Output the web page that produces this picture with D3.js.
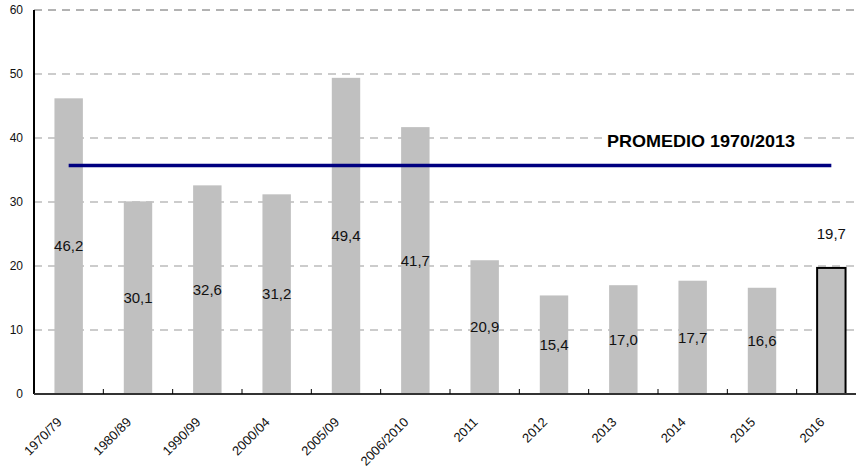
<!DOCTYPE html>
<html>
<head>
<meta charset="utf-8">
<script src="https://cdn.jsdelivr.net/npm/d3@7"></script>
<style>
  body { margin: 0; background: #fff; }
  text { font-family: Arial, "Liberation Sans", sans-serif; }
</style>
</head>
<body>
<svg id="chart" width="856" height="475"></svg>
<script>
// data
var periods = ["1970/79", "1980/89", "1990/99", "2000/04", "2005/09", "2006/2010",
               "2011", "2012", "2013", "2014", "2015", "2016"];
var values = [46.2, 30.1, 32.6, 31.2, 49.4, 41.7, 20.9, 15.4, 17.0, 17.7, 16.6, 19.7];
var highlight = ["2016"];
var averageValue = 35.7;
var averageLabel = "PROMEDIO 1970/2013";
var yTicks = [0, 10, 20, 30, 40, 50, 60];

var svg = d3.select("#chart");
var margin = { left: 34, top: 10, right: -10, bottom: 81 };
var width = 856 - margin.left - margin.right;
var height = 475 - margin.top - margin.bottom;

var g = svg.append("g")
    .attr("transform", "translate(" + margin.left + "," + margin.top + ")");

var x = d3.scaleBand().domain(periods).range([0, width]).paddingInner(0).paddingOuter(0);
var y = d3.scaleLinear().domain([0, 60]).range([height, 0]);
var barw = x.bandwidth() * 0.41;

// gridlines
g.selectAll(".grid")
    .data(yTicks.filter(function (d) { return d > 0; }))
    .enter()
    .append("line")
    .attr("x1", 0)
    .attr("x2", width)
    .attr("y1", function (d) { return y(d); })
    .attr("y2", function (d) { return y(d); })
    .attr("stroke", function (d) { return d === 60 ? "#666" : "#999"; })
    .attr("stroke-width", 1)
    .attr("stroke-dasharray", "8,6");

// bars
var data = periods.map(function (p, i) { return { p: p, v: values[i] }; });
g.selectAll(".bar")
    .data(data)
    .enter()
    .append("rect")
    .attr("x", function (d) { return x(d.p) + (x.bandwidth() - barw) / 2; })
    .attr("y", function (d) { return y(d.v); })
    .attr("width", barw)
    .attr("height", function (d) { return height - y(d.v); })
    .attr("fill", "#c0c0c0")
    .attr("stroke", function (d) { return highlight.indexOf(d.p) >= 0 ? "#000" : "none"; })
    .attr("stroke-width", 2);

// value labels (middle of bar, highlighted one above)
g.selectAll(".vlabel")
    .data(data)
    .enter()
    .append("text")
    .attr("x", function (d) { return x(d.p) + x.bandwidth() / 2; })
    .attr("y", function (d) {
        if (highlight.indexOf(d.p) >= 0) { return y(d.v) - 34; }
        return y(d.v / 2);
    })
    .attr("dy", "0.35em")
    .attr("text-anchor", "middle")
    .attr("font-size", 15)
    .attr("fill", "#111")
    .text(function (d) { return d3.format(".1f")(d.v).replace(".", ","); });

// average line
var x0 = x(periods[0]) + x.bandwidth() / 2;
var x1 = x(periods[periods.length - 1]) + x.bandwidth() / 2;
g.append("line")
    .attr("x1", x0)
    .attr("x2", x1)
    .attr("y1", y(averageValue))
    .attr("y2", y(averageValue))
    .attr("stroke", "#000080")
    .attr("stroke-width", 3.3);

var avgText = g.append("text")
    .attr("x", 573)
    .attr("y", y(40) + 9)
    .attr("font-size", 17)
    .attr("font-weight", "bold")
    .attr("fill", "#000")
    .attr("textLength", 188)
    .attr("lengthAdjust", "spacingAndGlyphs")
    .text(averageLabel);
var bb = avgText.node().getBBox();
g.append("rect")
    .attr("x", bb.x - 3)
    .attr("y", bb.y)
    .attr("width", bb.width + 6)
    .attr("height", bb.height)
    .attr("fill", "#fff");
avgText.raise();

// y axis
g.append("line")
    .attr("x1", 0).attr("x2", 0)
    .attr("y1", 0).attr("y2", height)
    .attr("stroke", "#000").attr("stroke-width", 2);
g.selectAll(".ylabel")
    .data(yTicks)
    .enter()
    .append("text")
    .attr("x", -11)
    .attr("y", function (d) { return y(d); })
    .attr("dy", "0.35em")
    .attr("text-anchor", "end")
    .attr("font-size", 12)
    .attr("fill", "#111")
    .text(function (d) { return d; });

// x axis
g.append("line")
    .attr("x1", 0).attr("x2", width)
    .attr("y1", height).attr("y2", height)
    .attr("stroke", "#333").attr("stroke-width", 2);
g.selectAll(".xtick")
    .data(periods.slice(1))
    .enter()
    .append("line")
    .attr("x1", function (d) { return x(d); })
    .attr("x2", function (d) { return x(d); })
    .attr("y1", height)
    .attr("y2", height - 5)
    .attr("stroke", "#000");
g.selectAll(".xlabel")
    .data(periods)
    .enter()
    .append("text")
    .attr("transform", function (d) {
        return "translate(" + (x(d) + x.bandwidth() / 2 - 6) + "," + (height + 29) + ") rotate(-45)";
    })
    .attr("text-anchor", "end")
    .attr("font-size", 13)
    .attr("fill", "#111")
    .text(function (d) { return d; });
</script>
</body>
</html>
